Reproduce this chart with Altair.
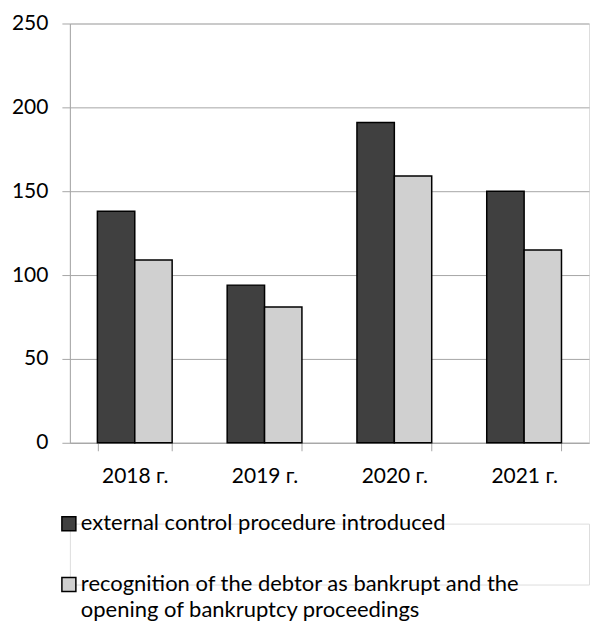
import altair as alt
import pandas as pd

years = ["2018 г.", "2019 г.", "2020 г.", "2021 г."]
series = [
    "external control procedure introduced",
    "recognition of the debtor as bankrupt and the|opening of bankruptcy proceedings",
]
external = [138, 94, 191, 150]
bankrupt = [109, 81, 159, 115]
colors = ["#404040", "#d0d0d0"]

rows = []
for i, y in enumerate(years):
    rows.append({"year": y, "series": series[0], "value": external[i]})
    rows.append({"year": y, "series": series[1], "value": bankrupt[i]})
df = pd.DataFrame(rows)
legend_df = pd.DataFrame({"series": series})

FONT = "Lato"
color_scale = alt.Scale(domain=series, range=colors)

bars = alt.Chart(df).mark_bar(stroke="black", strokeWidth=1.5).encode(
    x=alt.X(
        "year:N",
        sort=years,
        title=None,
        scale=alt.Scale(paddingInner=0.424, paddingOuter=0.212),
        axis=alt.Axis(
            labelAngle=0,
            tickBand="extent",
            domainColor="#a6a6a6",
            tickColor="#a6a6a6",
            tickSize=8,
            labelFontSize=21,
            labelFont=FONT,
            labelColor="#000000",
            labelPadding=15,
            grid=False,
        ),
    ),
    xOffset=alt.XOffset("series:N", sort=series),
    y=alt.Y(
        "value:Q",
        title=None,
        scale=alt.Scale(domain=[0, 250], nice=False),
        axis=alt.Axis(
            values=[0, 50, 100, 150, 200, 250],
            domainColor="#a6a6a6",
            tickColor="#a6a6a6",
            gridColor="#a6a6a6",
            tickSize=8,
            labelFontSize=21,
            labelFont=FONT,
            labelColor="#000000",
            labelPadding=14,
        ),
    ),
    fill=alt.Fill("series:N", sort=series, scale=color_scale, legend=None),
).properties(width=520, height=420)

leg_y = alt.Y("series:N", sort=series, scale=alt.Scale(type="point", padding=0), axis=None)

leg_sym = alt.Chart(legend_df).mark_square(
    size=196, stroke="black", strokeWidth=1.5, opacity=1
).encode(
    x=alt.value(-1),
    y=leg_y,
    fill=alt.Fill("series:N", sort=series, scale=color_scale, legend=None),
)

leg_txt = alt.Chart(legend_df).transform_calculate(
    lines="split(datum.series, '|')"
).mark_text(
    align="left", baseline="top", dy=-11, fontSize=22, lineHeight=27,
    font=FONT, color="#000000",
).encode(
    x=alt.value(11),
    y=leg_y,
    text="lines:N",
)

legend = alt.layer(leg_sym, leg_txt).properties(width=520, height=61)

chart = alt.vconcat(bars, legend, spacing=23).properties(
    padding={"left": 10, "top": 11, "right": 0, "bottom": 0},
).configure_view(strokeWidth=0, stroke="transparent").configure(background="white")

chart.save("out.html", embed_options={"renderer": "svg", "actions": False})
